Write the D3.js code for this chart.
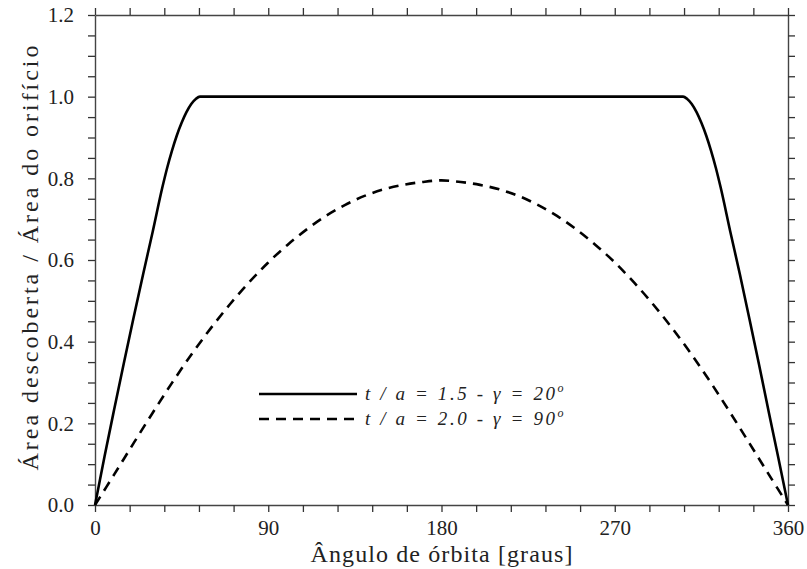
<!DOCTYPE html>
<html>
<head>
<meta charset="utf-8">
<script src="https://cdn.jsdelivr.net/npm/d3@7"></script>
<style>
  body { margin: 0; background: #fff; }
</style>
</head>
<body>
<div id="chartDiv"></div>
<script>
  // series (angle in degrees, uncovered area ratio)
  const solidAngles = [0, 5, 10, 15, 20, 25, 30, 35, 37.5, 40, 42.5, 45, 47.5, 50, 52.5, 54.5,
                       305.5, 307.5, 310, 312.5, 315, 317.5, 320, 322.5, 325, 330, 335, 340, 345, 350, 355, 360];
  const solidValues = [0, 0.12, 0.235, 0.348, 0.458, 0.565, 0.67, 0.778, 0.826, 0.868, 0.905, 0.936, 0.962, 0.982, 0.995, 1.0,
                       1.0, 0.995, 0.982, 0.962, 0.936, 0.905, 0.868, 0.826, 0.778, 0.67, 0.565, 0.455, 0.343, 0.228, 0.115, 0];
  const dashedAngles = d3.range(0, 361, 10);
  const dashedValues = [0, 0.075, 0.151, 0.226, 0.299, 0.368, 0.432, 0.491, 0.545, 0.594,
                        0.637, 0.675, 0.708, 0.735, 0.757, 0.773, 0.784, 0.791, 0.795,
                        0.791, 0.784, 0.773, 0.757, 0.735, 0.708, 0.675, 0.637, 0.594,
                        0.545, 0.491, 0.432, 0.368, 0.299, 0.226, 0.151, 0.075, 0];
  const xTicks = d3.range(0, 361, 18);
  const xLabels = [0, 90, 180, 270, 360];
  const yTicks = d3.range(0, 1.2001, 0.05);
  const legendLabels = ["t / a = 1.5 - γ = 20", "t / a = 2.0 - γ = 90"];

  const serif = "'Liberation Serif', 'DejaVu Serif', 'Times New Roman', serif";

  // set the dimensions and margins of the graph
  const margin = {top: 15, right: 19, bottom: 64, left: 95},
      width = 807 - margin.left - margin.right,
      height = 569 - margin.top - margin.bottom;

  const svg = d3.select("#chartDiv")
      .append("svg")
      .attr("width", 807)
      .attr("height", 569)
      .append("g")
      .attr("transform", "translate(" + margin.left + "," + margin.top + ")");

  const x = d3.scaleLinear().domain([0, 360]).range([0, width]);
  const y = d3.scaleLinear().domain([0, 1.2]).range([height, 0]);

  const isLabelY = v => Math.abs(v * 5 - Math.round(v * 5)) < 1e-6;

  // axes on all four sides, ticks pointing outwards
  const styleAxis = g => {
      g.attr("font-family", null);
      g.select(".domain").attr("stroke", "#444").attr("stroke-width", 1.4);
      g.selectAll(".tick line").attr("stroke", "#333").attr("stroke-width", 1.3);
      g.selectAll(".tick text")
          .attr("fill", "#222")
          .style("font-family", serif)
          .style("font-size", "21px");
  };

  svg.append("g")
      .attr("transform", "translate(0," + height + ")")
      .call(d3.axisBottom(x).tickValues(xTicks).tickSizeInner(7).tickSizeOuter(0).tickPadding(8)
          .tickFormat(d => xLabels.includes(d) ? d : ""))
      .call(styleAxis);
  svg.append("g")
      .call(d3.axisTop(x).tickValues(xTicks).tickSizeInner(7).tickSizeOuter(0).tickFormat(""))
      .call(styleAxis);
  svg.append("g")
      .call(d3.axisLeft(y).tickValues(yTicks).tickSizeInner(7).tickSizeOuter(0).tickPadding(14)
          .tickFormat(d => isLabelY(d) ? d3.format(".1f")(d) : ""))
      .call(styleAxis);
  svg.append("g")
      .attr("transform", "translate(" + width + ",0)")
      .call(d3.axisRight(y).tickValues(yTicks).tickSizeInner(7).tickSizeOuter(0).tickFormat(""))
      .call(styleAxis);

  // axis titles
  svg.append("text")
      .attr("x", width / 2)
      .attr("y", height + 57)
      .attr("text-anchor", "middle")
      .attr("textLength", 262)
      .attr("lengthAdjust", "spacing")
      .style("font-family", serif)
      .style("font-size", "24px")
      .attr("fill", "#222")
      .text("Ângulo de órbita [graus]");
  svg.append("text")
      .attr("transform", "translate(" + (38 - margin.left) + "," + (height / 2 - 2) + ") rotate(-90)")
      .attr("text-anchor", "middle")
      .attr("textLength", 425)
      .attr("lengthAdjust", "spacing")
      .style("font-family", serif)
      .style("font-size", "24px")
      .attr("fill", "#222")
      .text("Área descoberta / Área do orifício");

  // curves
  const line = d3.line()
      .x(d => x(d[0]))
      .y(d => y(d[1]));

  svg.append("path")
      .datum(solidAngles.map((a, i) => [a, solidValues[i]]))
      .attr("fill", "none")
      .attr("stroke", "#000")
      .attr("stroke-width", 2.6)
      .attr("stroke-linejoin", "round")
      .attr("d", line.curve(d3.curveMonotoneX));

  svg.append("path")
      .datum(dashedAngles.map((a, i) => [a, dashedValues[i]]))
      .attr("fill", "none")
      .attr("stroke", "#000")
      .attr("stroke-width", 2.6)
      .attr("stroke-dasharray", "10,7")
      .attr("d", line.curve(d3.curveCatmullRom));

  // legend
  const legend = svg.append("g").attr("transform", "translate(164,379)");
  legendLabels.forEach((lab, i) => {
      const row = legend.append("g").attr("transform", "translate(0," + (i * 25) + ")");
      row.append("line")
          .attr("x1", 0).attr("x2", 98)
          .attr("stroke", "#000").attr("stroke-width", 2.6)
          .attr("stroke-dasharray", i === 1 ? "10,7" : null);
      const t = row.append("text")
          .attr("x", 106).attr("y", 6)
          .attr("fill", "#222")
          .style("font-family", serif)
          .style("font-size", "19px")
          .style("font-style", "italic");
      t.append("tspan")
          .attr("textLength", 190)
          .attr("lengthAdjust", "spacing")
          .text(lab);
      t.append("tspan")
          .style("font-size", "12px")
          .attr("dy", -8)
          .text("o");
  });
</script>
</body>
</html>
